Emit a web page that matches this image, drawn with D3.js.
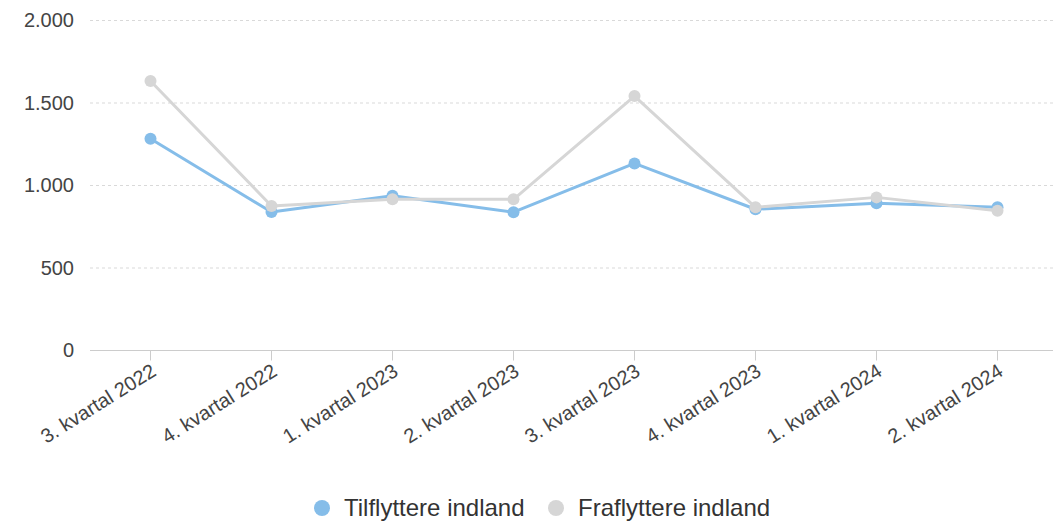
<!DOCTYPE html>
<html><head><meta charset="utf-8">
<script src="https://cdn.jsdelivr.net/npm/d3@7"></script>
<style>
body{margin:0;background:#fff;}
svg{display:block;font-family:"Liberation Sans",Arial,sans-serif;}
</style></head>
<body><svg id="c" width="1053" height="522"></svg>
<script>
const categories = ["3. kvartal 2022","4. kvartal 2022","1. kvartal 2023","2. kvartal 2023","3. kvartal 2023","4. kvartal 2023","1. kvartal 2024","2. kvartal 2024"];
const tilflyttere = [1280, 836, 935, 835, 1131, 853, 889, 865];
const fraflyttere = [1630, 873, 913, 913, 1539, 865, 925, 844];
const seriesNames = ["Tilflyttere indland", "Fraflyttere indland"];
const seriesColors = ["#85bde9", "#d6d6d6"];
const yTicks = [0, 500, 1000, 1500, 2000];

const svg = d3.select("#c");
const x = d3.scaleBand().domain(categories).range([90, 1058]);
const y = d3.scaleLinear().domain([0, 2000]).range([350, 20]);
const fmt = v => d3.format(",")(v).replace(/,/g, ".");

// grid
svg.append("g").selectAll("line").data(yTicks.filter(d => d > 0)).join("line")
  .attr("x1", 90).attr("x2", 1053)
  .attr("y1", d => y(d) + 0.5).attr("y2", d => y(d) + 0.5)
  .attr("stroke", "#d9d9d9").attr("stroke-width", 1).attr("stroke-dasharray", "3,3");

// y labels
svg.append("g").selectAll("text").data(yTicks).join("text")
  .attr("x", 74).attr("y", d => y(d) + 7)
  .attr("text-anchor", "end").attr("font-size", 20).attr("fill", "#444")
  .text(fmt);

// x axis
const xg = svg.append("g").attr("transform", "translate(0,350.5)");
xg.append("line").attr("x1", 90).attr("x2", 1053).attr("stroke", "#ccc");
xg.selectAll("line.t").data(categories).join("line").attr("class", "t")
  .attr("x1", d => x(d) + x.bandwidth() / 2).attr("x2", d => x(d) + x.bandwidth() / 2)
  .attr("y1", 0).attr("y2", 10).attr("stroke", "#ccc");
xg.selectAll("text").data(categories).join("text")
  .attr("transform", d => `translate(${x(d) + x.bandwidth() / 2 + 7},${24}) rotate(-32)`)
  .attr("text-anchor", "end").attr("font-size", 20).attr("fill", "#444")
  .text(d => d);

const cx = d => x(d) + x.bandwidth() / 2;
const series = [tilflyttere, fraflyttere];
series.forEach((vals, i) => {
  const data = categories.map((c, j) => ({c, v: vals[j]}));
  const line = d3.line().x(d => cx(d.c)).y(d => y(d.v));
  const g = svg.append("g");
  g.append("path").datum(data).attr("d", line).attr("fill", "none")
    .attr("stroke", seriesColors[i]).attr("stroke-width", 3).attr("stroke-linejoin", "round");
  g.selectAll("circle").data(data).join("circle")
    .attr("cx", d => cx(d.c)).attr("cy", d => y(d.v)).attr("r", 6).attr("fill", seriesColors[i]);
});

// legend
const leg = svg.append("g");
const legX = [322, 556];
seriesNames.forEach((n, i) => {
  leg.append("circle").attr("cx", legX[i]).attr("cy", 508).attr("r", 8).attr("fill", seriesColors[i]);
  leg.append("text").attr("x", legX[i] + 22).attr("y", 516).attr("font-size", 24).attr("fill", "#333").text(n);
});
</script></body></html>
